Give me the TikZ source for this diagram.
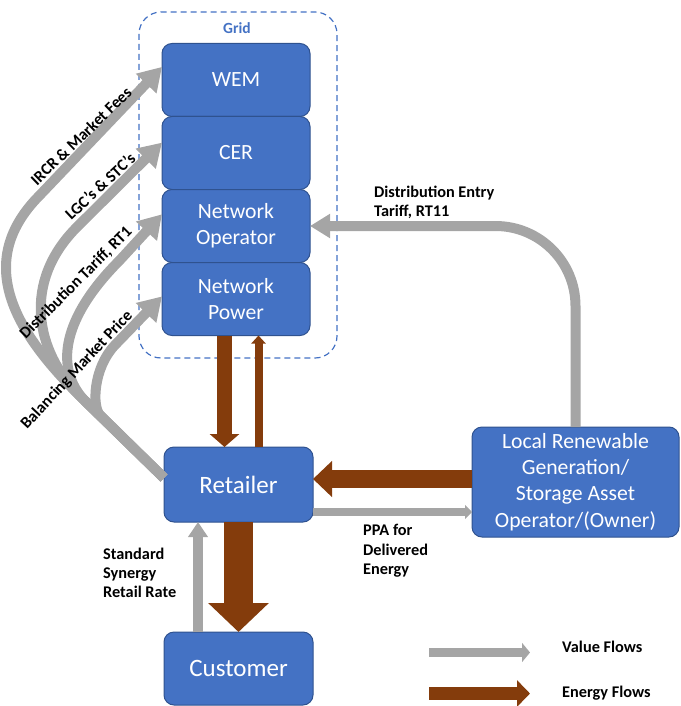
\documentclass[tikz,border=0pt]{standalone}
\usepackage{fontspec}
\setmainfont{Carlito}
\usepackage{tikz}
\usetikzlibrary{arrows.meta,positioning}

\definecolor{boxblue}{HTML}{4472C4}
\definecolor{boxline}{HTML}{2F528F}
\definecolor{flowgray}{HTML}{A5A5A5}
\definecolor{flowbrown}{HTML}{843C0C}

\tikzset{
  entity/.style={draw=boxline, line width=1pt, fill=boxblue, rounded corners=10pt,
    text=white, align=center, inner sep=0pt, outer sep=0pt,
    minimum width=148pt, minimum height=73pt, font=\fontsize{21.7}{26.3}\selectfont},
  bigentity/.style={entity, minimum width=149pt, font=\fontsize{25}{30}\selectfont},
  flowlabel/.style={inner sep=0pt, align=left, font=\bfseries\fontsize{16.3}{19.3}\selectfont},
  sidelabel/.style={inner sep=0pt, font=\bfseries\fontsize{16.3}{16.3}\selectfont},
  valflow/.style={draw=flowgray, line width=10pt, line join=round, -{Triangle[length=23pt,width=27pt]}},
  nrgflow/.style={draw=flowbrown}
}

\begin{document}
\begin{tikzpicture}[x=1pt,y=-1pt]
	\useasboundingbox (0,0) rectangle (680,706);
	% grid frame
	\draw[boxblue, line width=1.2pt, dash pattern=on 6pt off 4pt, rounded corners=22pt] (139,12) rectangle (337,358);
	\node[text=boxblue, font=\bfseries\fontsize{15.5}{15.5}\selectfont] (gridlbl) at (237,28) {Grid};
	% parties
	\node[entity] (wem) at (236,80) {WEM};
	\node[entity] [below=0pt of wem] (cer) {CER};
	\node[entity] [below=0pt of cer] (no) {Network\\Operator};
	\node[entity] [below=0pt of no] (np) {Network\\Power};
	\node[bigentity, minimum height=75pt] (ret) at (238.5,484.5) {Retailer};
	\node[bigentity] (cust) at (238.5,668.5) {Customer};
	\node[entity, minimum width=207pt, minimum height=110pt] (lr) at (575.5,482) {Local Renewable\\Generation/\\Storage Asset\\Operator/(Owner)};
	% value flows
	\draw[valflow] (ret.175) -- (77,393) .. controls (12,328) and (-25,260) .. (40,195) -- (wem.170);
	\draw[valflow] (ret.175) -- (80,396) .. controls (35,351) and (22,282) .. (77,227) -- (cer.172);
	\draw[valflow] (ret.175) -- (86,402) .. controls (58,374) and (55,325) .. (120,260) -- (no.171);
	\draw[valflow] (ret.175) -- (100,415) .. controls (92,407) and (93,368) .. (115,345) -- (np.178);
	\draw[valflow, -{Triangle[length=20pt,width=23pt]}, rounded corners=80pt] (lr.north) |- (no.east);
	\coordinate (payup) at ([xshift=-40.5pt]cust.north);
	\draw[valflow, -{Triangle[length=15pt,width=19pt]}] (payup) -- (payup |- ret.south);
	\coordinate (ppa) at ([yshift=-27.5pt]ret.east);
	\draw[valflow, line width=8pt, -{Triangle[length=7pt,width=14pt]}] (ppa) -- (ppa -| lr.west);
	% energy flows
	\coordinate (gridout) at ([xshift=-11.5pt]np.south);
	\draw[nrgflow, line width=15pt, -{Triangle[length=13pt,width=29pt]}] (gridout) -- (gridout |- ret.north);
	\coordinate (gridin) at ([xshift=20pt]ret.north);
	\draw[nrgflow, line width=8pt, -{Triangle[length=8pt,width=14pt]}] (gridin) -- (gridin |- np.south);
	\draw[nrgflow, line width=29pt, -{Triangle[length=29pt,width=59pt]}] (ret.south) -- (cust.north);
	\coordinate (gen) at ([yshift=3pt]lr.west);
	\draw[nrgflow, line width=18pt, -{Triangle[length=19pt,width=35pt]}] (gen) -- (gen -| ret.east);
	% labels
	\node[sidelabel, rotate=44] (lblwem) at (81,136) {IRCR \& Market Fees};
	\node[sidelabel, rotate=43] (lblcer) at (100,186) {LGC’s \& STC’s};
	\node[sidelabel, rotate=45] (lblno) at (76,283) {Distribution Tariff, RT1};
	\node[sidelabel, rotate=47] (lblnp) at (77,370) {Balancing Market Price};
	\node[flowlabel, anchor=west] (lblentry) at (374,202.5) {Distribution Entry\\Tariff, RT11};
	\node[flowlabel, anchor=west] (lblppa) at (363,551) {PPA for\\Delivered\\Energy};
	\node[flowlabel, anchor=west] (lblstd) at (103,573) {Standard\\Synergy\\Retail Rate};
	% legend
	\coordinate (vala) at (429,652.5);
	\coordinate (valb) at (530,652.5);
	\coordinate (nrga) at (429,693.5);
	\coordinate (nrgb) at (530,693.5);
	\draw[valflow, line width=9pt, -{Triangle[length=8pt,width=19pt]}] (vala) -- (valb);
	\draw[nrgflow, line width=13pt, -{Triangle[length=13pt,width=26pt]}] (nrga) -- (nrgb);
	\node[flowlabel, anchor=west] (lblval) at (562,647) {Value Flows};
	\node[flowlabel, anchor=west] (lblnrg) at (562,693) {Energy Flows};
\end{tikzpicture}
\end{document}
